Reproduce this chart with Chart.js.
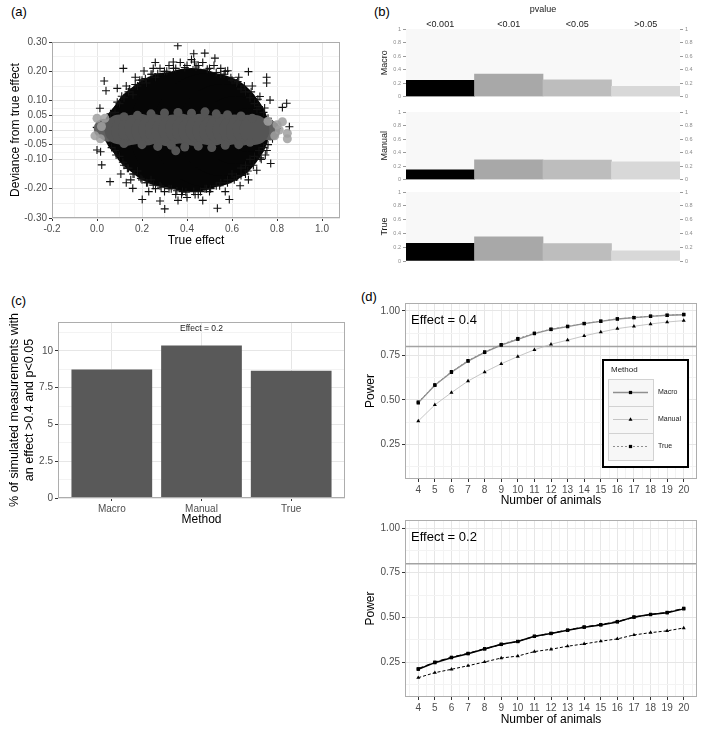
<!DOCTYPE html>
<html>
<head>
<meta charset="utf-8">
<script src="https://cdn.jsdelivr.net/npm/chart.js@4.4.0/dist/chart.umd.min.js"></script>
<style>
  body { margin: 0; background: #fff; width: 704px; height: 729px; position: relative; overflow: hidden;
         font-family: 'Liberation Sans', Arial, sans-serif; }
  canvas { position: absolute; }
  .tag { position: absolute; font-size: 13px; line-height: 15px; color: #000; }
</style>
</head>
<body>
<div class="tag" style="left:11px;top:4px">(a)</div>
<div class="tag" style="left:374px;top:4px">(b)</div>
<div class="tag" style="left:11px;top:293px">(c)</div>
<div class="tag" style="left:361px;top:289px">(d)</div>

<canvas id="chartA" width="350" height="255" style="left:0;top:0"></canvas>
<canvas id="facetMacro" width="364" height="102" style="left:340px;top:0"></canvas>
<canvas id="facetManual" width="364" height="85" style="left:340px;top:100px"></canvas>
<canvas id="facetTrue" width="364" height="85" style="left:340px;top:185px"></canvas>
<canvas id="chartC" width="350" height="250" style="left:0;top:280px"></canvas>
<canvas id="power04" width="344" height="232" style="left:360px;top:280px"></canvas>
<canvas id="power02" width="344" height="229" style="left:360px;top:500px"></canvas>

<script>
// ---- (a) deviance scatter ----
// dense black cloud of Manual crosses (centre line of the blob)
const denseX = [0.118, 0.162, 0.22, 0.273, 0.331, 0.42, 0.50, 0.56, 0.615, 0.67, 0.715];
const denseY = [0, 0, 0, 0, 0, 0, 0, 0, 0, 0, 0];
// single Manual crosses at the edge of the cloud and outliers
const crossX = [0.359, 0.479, 0.524, 0.259, 0.339, 0.433, 0.117, 0.209, 0.581, 0.673, 0.032, 0.754, 0.754, 0.040,
  0.090, 0.724, 0.769, 0.843, 0.824, 0.013, 0.711, 0.855, -0.001, 0.80, 0.754, 0.0, 0.016, 0.021, 0.772, 0.748,
  0.710, 0.058, 0.159, 0.201, 0.280, 0.301, 0.376, 0.436, 0.487, 0.535, 0.588, 0.636, 0.673, 0.106, 0.13,
  0.08, 0.10, 0.12, 0.14, 0.16, 0.18, 0.20, 0.22, 0.24, 0.26, 0.28, 0.30, 0.32, 0.34, 0.37, 0.40, 0.42, 0.45,
  0.47, 0.50, 0.52, 0.55, 0.57, 0.60, 0.62, 0.64, 0.66, 0.68, 0.70, 0.72, 0.74, 0.76,
  0.08, 0.10, 0.12, 0.14, 0.16, 0.18, 0.20, 0.22, 0.24, 0.26, 0.28, 0.30, 0.33, 0.35, 0.38, 0.40, 0.43, 0.45,
  0.48, 0.50, 0.53, 0.55, 0.58, 0.60, 0.62, 0.64, 0.66, 0.68, 0.70, 0.72, 0.74, 0.76,
  0.05, 0.06, 0.78, 0.78, 0.06, 0.13, 0.17, 0.25, 0.43, 0.55, 0.63, 0.69, 0.15, 0.23, 0.36, 0.47, 0.57, 0.66, 0.73,
  0.06, 0.09, 0.11, 0.145, 0.17, 0.19, 0.215, 0.245, 0.27, 0.31, 0.35, 0.39, 0.44, 0.49, 0.53, 0.565, 0.595, 0.625, 0.655, 0.685, 0.715, 0.745,
  0.065, 0.085, 0.115, 0.135, 0.165, 0.195, 0.225, 0.25, 0.285, 0.32, 0.355, 0.395, 0.46, 0.505, 0.545, 0.58, 0.61, 0.64, 0.67, 0.695, 0.725, 0.755];
const crossY = [0.287, 0.262, 0.245, 0.230, 0.232, 0.232, 0.210, 0.201, 0.202, 0.199, 0.167, 0.180, 0.160, 0.134,
  0.142, 0.114, 0.102, 0.091, 0.077, 0.074, 0.070, 0.011, 0.009, 0.005, -0.016, -0.068, -0.074, -0.119, -0.114, -0.085,
  -0.137, -0.176, -0.199, -0.237, -0.242, -0.269, -0.220, -0.220, -0.200, -0.267, -0.237, -0.190, -0.170, -0.150, -0.180,
  0.06, 0.09, 0.11, 0.13, 0.12, 0.15, 0.17, 0.16, 0.19, 0.18, 0.21, 0.20, 0.22, 0.21, 0.23, 0.22, 0.24, 0.22,
  0.23, 0.21, 0.22, 0.19, 0.20, 0.17, 0.16, 0.14, 0.13, 0.11, 0.09, 0.08, 0.06, 0.04,
  -0.07, -0.09, -0.12, -0.13, -0.15, -0.14, -0.17, -0.18, -0.17, -0.20, -0.19, -0.21, -0.20, -0.22, -0.21, -0.23, -0.21, -0.22,
  -0.20, -0.21, -0.19, -0.18, -0.17, -0.15, -0.16, -0.13, -0.12, -0.10, -0.09, -0.07, -0.06, -0.05,
  0.03, -0.03, 0.02, -0.03, 0.0, 0.15, 0.18, 0.21, 0.26, 0.21, 0.18, 0.15, -0.17, -0.21, -0.24, -0.24, -0.21, -0.15, -0.10,
  0.055, 0.095, 0.115, 0.14, 0.155, 0.17, 0.175, 0.19, 0.192, 0.2, 0.21, 0.213, 0.215, 0.207, 0.196, 0.19, 0.178, 0.165, 0.15, 0.13, 0.105, 0.075,
  -0.06, -0.085, -0.11, -0.13, -0.15, -0.165, -0.18, -0.188, -0.195, -0.2, -0.207, -0.212, -0.21, -0.2, -0.19, -0.18, -0.17, -0.155, -0.14, -0.12, -0.095, -0.07];
// grey Macro band around zero
const bandX = [0.10, 0.13, 0.16, 0.19, 0.22, 0.25, 0.28, 0.31, 0.34, 0.37, 0.40, 0.43, 0.46, 0.49, 0.52, 0.55, 0.58, 0.61, 0.64, 0.67, 0.70];
const bandY = [0.002, -0.003, 0.001, 0.004, -0.002, 0.003, 0.0, -0.004, 0.002, 0.005, 0.001, -0.003, 0.004, 0.0, -0.002, 0.003, -0.001, 0.002, -0.003, 0.001, 0.0];
const bandEndX = [0.03, 0.05, 0.07, 0.73, 0.75, 0.77];
const bandEndY = [0.004, -0.006, 0.008, -0.004, 0.006, -0.002];
const speckX = [0.12, 0.18, 0.24, 0.30, 0.36, 0.42, 0.48, 0.53, 0.58, 0.64, 0.69, 0.12, 0.20, 0.27, 0.33, 0.39, 0.45, 0.51, 0.57, 0.63, 0.68, 0.35];
const speckY = [0.045, 0.050, 0.055, 0.058, 0.060, 0.057, 0.062, 0.055, 0.052, 0.048, 0.040, -0.046, -0.050, -0.056, -0.052, -0.058, -0.055, -0.060, -0.052, -0.050, -0.042, -0.071];
const lightX = [0.0, -0.009, 0.02, 0.015, 0.035, 0.80, 0.824, 0.846, 0.846, 0.79, 0.76, 0.81];
const lightY = [0.040, -0.020, 0.012, -0.030, 0.040, 0.018, 0.028, -0.011, -0.030, -0.020, 0.030, 0.0];

// ---- (b) share of significant results per p-value bin ----
const pvalueBins = ['<0.001', '<0.01', '<0.05', '>0.05'];
const shareMacro = [0.243, 0.333, 0.248, 0.152];
const shareManual = [0.146, 0.293, 0.288, 0.263];
const shareTrue = [0.257, 0.350, 0.252, 0.146];

// ---- (c) % with effect > 0.4 and p < 0.05 ----
const methods = ['Macro', 'Manual', 'True'];
const pctLargeSig = [8.74, 10.37, 8.65];
const effectC = 0.2;

// ---- (d) power curves ----
const animals = [4, 5, 6, 7, 8, 9, 10, 11, 12, 13, 14, 15, 16, 17, 18, 19, 20];
const power04Macro = [0.483, 0.582, 0.655, 0.718, 0.767, 0.808, 0.841, 0.873, 0.896, 0.912, 0.929, 0.942, 0.955, 0.963, 0.970, 0.976, 0.979];
const power04Manual = [0.381, 0.472, 0.541, 0.606, 0.657, 0.703, 0.744, 0.782, 0.813, 0.836, 0.860, 0.881, 0.901, 0.914, 0.927, 0.938, 0.946];
const power04True = [0.488, 0.585, 0.659, 0.721, 0.770, 0.811, 0.845, 0.875, 0.898, 0.914, 0.930, 0.943, 0.956, 0.963, 0.971, 0.976, 0.981];
const power02Macro = [0.210, 0.247, 0.275, 0.297, 0.324, 0.350, 0.365, 0.395, 0.410, 0.428, 0.445, 0.458, 0.475, 0.503, 0.516, 0.526, 0.548];
const power02Manual = [0.163, 0.191, 0.210, 0.230, 0.251, 0.273, 0.284, 0.309, 0.322, 0.339, 0.352, 0.367, 0.380, 0.402, 0.415, 0.425, 0.441];
const power02True = [0.213, 0.250, 0.277, 0.299, 0.325, 0.349, 0.366, 0.394, 0.411, 0.429, 0.447, 0.460, 0.477, 0.501, 0.517, 0.528, 0.551];
const powerTarget = 0.8;

// tick positions (majors labelled, minors only as faint grid)
const devTicks = [-0.3, -0.2, -0.1, -0.05, 0, 0.05, 0.1, 0.2, 0.3];
const devMinor = [-0.25, -0.15, -0.075, -0.025, 0.025, 0.075, 0.15, 0.25];
const effTicks = [-0.2, 0, 0.2, 0.4, 0.6, 0.8, 1.0];
const effMinor = [-0.1, 0.1, 0.3, 0.5, 0.7, 0.9];
const pctTicks = [0, 2.5, 5, 7.5, 10];
const pctMinor = [1.25, 3.75, 6.25, 8.75, 11.25];
const powerTicks = [0.25, 0.5, 0.75, 1.0];
const powerMinor = [0.125, 0.375, 0.625, 0.875];
const animalMinor = [3.5, 4.5, 5.5, 6.5, 7.5, 8.5, 9.5, 10.5, 11.5, 12.5, 13.5, 14.5, 15.5, 16.5, 17.5, 18.5, 19.5, 20.5];

const FONT = "'Liberation Sans', Arial, sans-serif";
Chart.defaults.font.family = FONT;
Chart.defaults.color = '#4d4d4d';
Chart.defaults.animation = false;
Chart.defaults.responsive = false;
Chart.defaults.devicePixelRatio = 1;
Chart.defaults.layout.autoPadding = false;
Chart.defaults.plugins.legend.display = false;
Chart.defaults.plugins.tooltip.enabled = false;

const GRID_MAJOR = '#e6e6e6', GRID_MINOR = '#f3f3f3', TICK = '#333333', FRAME = '#adadad';

const xy = (xs, ys) => xs.map((x, i) => ({ x: x, y: ys[i] }));
const isIn = (list, v) => list.some(m => Math.abs(m - v) < 1e-9);

// ggplot-like axis: major ticks with labels, minor ones only as light grid
function ggAxis(majors, minors, fmt, fit) {
  const all = majors.concat(minors).sort((a, b) => a - b);
  return {
    afterBuildTicks: s => { s.ticks = all.map(v => ({ value: v })); },
    afterFit: fit,
    border: { display: false },
    grid: {
      color: c => (c.tick && isIn(majors, c.tick.value)) ? GRID_MAJOR : GRID_MINOR,
      tickColor: c => (c.tick && isIn(majors, c.tick.value)) ? TICK : 'rgba(0,0,0,0)',
      tickLength: 3
    },
    ticks: {
      autoSkip: false, maxRotation: 0, padding: 2, color: '#4d4d4d', font: { size: 10 },
      callback: v => isIn(majors, v) ? fmt(v) : ''
    }
  };
}

const frame = {
  id: 'frame',
  beforeDraw(chart, args, o) {
    if (!o.bg) return;
    const a = chart.chartArea, ctx = chart.ctx;
    ctx.save();
    ctx.fillStyle = o.bg;
    ctx.fillRect(a.left, a.top, a.right - a.left, a.bottom - a.top);
    ctx.restore();
  },
  afterDraw(chart, args, o) {
    if (!o.color) return;
    const a = chart.chartArea, ctx = chart.ctx;
    ctx.save();
    ctx.strokeStyle = o.color;
    ctx.lineWidth = 1;
    ctx.strokeRect(Math.round(a.left) + 0.5, Math.round(a.top) + 0.5,
      Math.round(a.right - a.left) - 1, Math.round(a.bottom - a.top) - 1);
    ctx.restore();
  }
};

// strip labels on top of the (b) facets
const binLabels = {
  id: 'binLabels',
  afterDraw(chart, args, o) {
    if (!o.title) return;
    const a = chart.chartArea, ctx = chart.ctx, x = chart.scales.x;
    ctx.save();
    ctx.font = '9px ' + FONT;
    ctx.fillStyle = '#1a1a1a';
    ctx.textAlign = 'center';
    ctx.textBaseline = 'middle';
    chart.data.labels.forEach((lab, i) => ctx.fillText(lab, x.getPixelForValue(i), a.top - 4.5));
    ctx.fillText(o.title, (a.left + a.right) / 2, a.top - 19);
    ctx.restore();
  }
};

const effectTag = {
  id: 'effectTag',
  afterDatasetsDraw(chart, args, o) {
    if (!o.text) return;
    const a = chart.chartArea, ctx = chart.ctx;
    ctx.save();
    ctx.font = o.size + 'px ' + FONT;
    ctx.fillStyle = o.color || '#000';
    ctx.textBaseline = 'middle';
    ctx.textAlign = o.align || 'left';
    const x = o.align === 'center' ? (a.left + a.right) / 2 : a.left + o.dx;
    ctx.fillText(o.text, x, a.top + o.dy);
    ctx.restore();
  }
};

const refLine = {
  id: 'refLine',
  beforeDatasetsDraw(chart, args, o) {
    if (o.value == null) return;
    const a = chart.chartArea, ctx = chart.ctx;
    const y = chart.scales.y.getPixelForValue(o.value);
    ctx.save();
    ctx.strokeStyle = '#a3a3a3';
    ctx.lineWidth = 1.5;
    ctx.beginPath();
    ctx.moveTo(a.left, y);
    ctx.lineTo(a.right, y);
    ctx.stroke();
    ctx.restore();
  }
};

const boxLegend = {
  id: 'boxLegend',
  afterDraw(chart, args, o) {
    if (!o.title) return;
    const a = chart.chartArea, ctx = chart.ctx;
    const L = Math.round(a.right - 94), T = Math.round(a.top + 57), W = 85, H = 107;
    ctx.save();
    ctx.fillStyle = '#fff';
    ctx.fillRect(L, T, W, H);
    ctx.lineWidth = 2;
    ctx.strokeStyle = '#000';
    ctx.strokeRect(L, T, W, H);
    ctx.fillStyle = '#1a1a1a';
    ctx.font = '8px ' + FONT;
    ctx.textBaseline = 'middle';
    ctx.fillText(o.title, L + 8, T + 10);
    chart.data.datasets.forEach((ds, i) => {
      const kx = L + 5, ky = T + 19 + i * 27, cy = ky + 13.5;
      ctx.fillStyle = '#f7f7f7';
      ctx.fillRect(kx, ky, 45, 27);
      ctx.strokeStyle = '#d2d2d2';
      ctx.lineWidth = 1;
      ctx.setLineDash([]);
      ctx.strokeRect(kx + 0.5, ky + 0.5, 45, 27);
      ctx.strokeStyle = ds.borderColor;
      ctx.lineWidth = ds.borderWidth;
      ctx.setLineDash(ds.borderDash || []);
      ctx.beginPath();
      ctx.moveTo(kx + 5, cy);
      ctx.lineTo(kx + 40, cy);
      ctx.stroke();
      ctx.setLineDash([]);
      ctx.fillStyle = '#000';
      Chart.helpers.drawPoint(ctx, { pointStyle: ds.pointStyle, radius: ds.pointRadius, borderWidth: 0, rotation: 0 }, kx + 22.5, cy);
      ctx.fillStyle = '#1a1a1a';
      ctx.font = '7px ' + FONT;
      ctx.fillText(ds.label, kx + 50, cy);
    });
    ctx.restore();
  }
};

// (a)
const dot = (c, r) => ({ pointRadius: r, pointBackgroundColor: c, pointBorderWidth: 0, pointBorderColor: c });
new Chart(document.getElementById('chartA'), {
  type: 'scatter',
  data: {
    datasets: [
      Object.assign({ label: 'Macro', data: xy(lightX, lightY) }, dot('rgba(160,160,160,0.85)', 4.5)),
      Object.assign({ label: 'Macro', data: xy(speckX, speckY) }, dot('#555555', 4.5)),
      Object.assign({ label: 'Macro', data: xy(bandX, bandY) }, dot('#555555', 15)),
      Object.assign({ label: 'Macro', data: xy(bandEndX, bandEndY) }, dot('#606060', 10)),
      { label: 'Manual', data: xy(crossX, crossY), pointStyle: 'cross', pointRadius: 4, pointBorderColor: '#111', pointBorderWidth: 1.1 },
      Object.assign({ label: 'Manual', data: xy(denseX, denseY) }, dot('#060606', 10),
        { pointRadius: [18, 30, 40, 50, 58, 62, 57, 46, 34, 22, 12] })
    ]
  },
  options: {
    layout: { padding: { top: 42, right: 10, left: 0, bottom: 0 } },
    scales: {
      x: Object.assign({ type: 'linear', min: -0.2, max: 1.08,
        title: { display: true, text: 'True effect', color: '#000', font: { size: 12 }, padding: { top: 0, bottom: 7 } } },
        ggAxis(effTicks, effMinor, v => v.toFixed(1), s => { s.height = 37; })),
      y: Object.assign({ type: 'linear', min: -0.3, max: 0.3,
        title: { display: true, text: 'Deviance from true effect', color: '#000', font: { size: 12 }, padding: { top: 8, bottom: 0 } } },
        ggAxis(devTicks, devMinor, v => v.toFixed(2), s => { s.width = 52; }))
    },
    plugins: { frame: { color: FRAME } }
  },
  plugins: [frame]
});

// (b) facets
const binColors = ['#000000', '#a8a8a8', '#bdbdbd', '#d8d8d8'];
function facet(id, method, values, first, pad) {
  const sideTicks = { stepSize: 0.2, autoSkip: false, color: '#8c8c8c', font: { size: 5.5 }, padding: 2,
    callback: v => String(+v.toFixed(1)) };
  new Chart(document.getElementById(id), {
    type: 'bar',
    data: { labels: pvalueBins, datasets: [{ label: method, data: values, backgroundColor: binColors,
      barPercentage: 1, categoryPercentage: 1, borderWidth: 0 }] },
    options: {
      layout: { padding: pad },
      scales: {
        x: { display: false },
        y: { min: 0, max: 1, afterFit: s => { s.width = 66; }, ticks: sideTicks,
          grid: { drawOnChartArea: false, tickLength: 3, tickColor: '#9a9a9a' }, border: { display: false },
          title: { display: true, text: method, color: '#1a1a1a', font: { size: 9 }, padding: { top: 39.6, bottom: 0 } } },
        y2: { position: 'right', min: 0, max: 1, afterFit: s => { s.width = 24; }, ticks: sideTicks,
          grid: { drawOnChartArea: false, tickLength: 3, tickColor: '#9a9a9a' }, border: { display: false } }
      },
      plugins: { frame: { bg: '#f8f8f8' }, binLabels: first ? { title: 'pvalue' } : {} }
    },
    plugins: [frame, binLabels]
  });
}
facet('facetMacro', 'Macro', shareMacro, true, { top: 29, bottom: 3, left: 0, right: 0 });
facet('facetManual', 'Manual', shareManual, false, { top: 12, bottom: 5, left: 0, right: 0 });
facet('facetTrue', 'True', shareTrue, false, { top: 7, bottom: 9, left: 0, right: 0 });

// (c)
new Chart(document.getElementById('chartC'), {
  type: 'bar',
  data: { datasets: [{ label: 'Effect = ' + effectC, data: methods.map((m, i) => ({ x: i + 1, y: pctLargeSig[i] })),
    backgroundColor: '#595959', barPercentage: 0.9, categoryPercentage: 1, borderWidth: 0 }] },
  options: {
    layout: { padding: { top: 42, right: 5, left: 0, bottom: 0 } },
    scales: {
      x: (() => {
        const ax = ggAxis([1, 2, 3], [], v => methods[v - 1], s => { s.height = 32; });
        ax.grid.offset = false;
        return Object.assign({ type: 'linear', min: 0.4, max: 3.6, offset: false,
          title: { display: true, text: 'Method', color: '#000', font: { size: 12 }, padding: { top: 0, bottom: 3 } } }, ax);
      })(),
      y: Object.assign({ type: 'linear', min: 0, max: 11.96,
        title: { display: true, text: ['% of simulated measurements with', 'an effect >0.4 and p<0.05'], color: '#000',
          font: { size: 12.5 }, padding: { top: 7.5, bottom: 0 } } },
        ggAxis(pctTicks, pctMinor, v => String(v), s => { s.width = 58; }))
    },
    plugins: {
      frame: { color: FRAME },
      effectTag: { text: 'Effect = ' + effectC, size: 8.5, color: '#1a1a1a', align: 'center', dy: 7 }
    }
  },
  plugins: [frame, effectTag]
});

// (d)
function powerChart(id, effect, series, styles, pad, xHeight, titlePad, withLegend) {
  new Chart(document.getElementById(id), {
    type: 'line',
    data: {
      datasets: methods.map((m, i) => Object.assign({
        label: m, data: xy(animals, series[i]),
        pointBackgroundColor: '#000', pointBorderWidth: 0, pointRadius: 2.3, fill: false, tension: 0
      }, styles[i]))
    },
    options: {
      layout: { padding: pad },
      scales: {
        x: Object.assign({ type: 'linear', min: 3.2, max: 20.8,
          title: { display: true, text: 'Number of animals', color: '#000', font: { size: 12 }, padding: { top: 0, bottom: titlePad } } },
          ggAxis(animals, animalMinor, v => String(v), s => { s.height = xHeight; })),
        y: Object.assign({ type: 'linear', min: 0.055, max: 1.045,
          title: { display: true, text: 'Power', color: '#000', font: { size: 12 }, padding: { top: 3, bottom: 0 } } },
          ggAxis(powerTicks, powerMinor, v => v.toFixed(2), s => { s.width = 45; }))
      },
      plugins: {
        frame: { color: FRAME },
        refLine: { value: powerTarget },
        effectTag: { text: 'Effect = ' + effect, size: 13, color: '#000', dx: 6, dy: 17.5 },
        boxLegend: withLegend ? { title: 'Method' } : {}
      }
    },
    plugins: [frame, refLine, effectTag, boxLegend]
  });
}

powerChart('power04', 0.4, [power04Macro, power04Manual, power04True], [
  { borderColor: '#8f8f8f', borderWidth: 1.3, pointStyle: 'rect' },
  { borderColor: '#b8b8b8', borderWidth: 0.8, pointStyle: 'triangle' },
  { borderColor: '#8f8f8f', borderWidth: 1, borderDash: [2, 2], pointStyle: 'rect' }
], { top: 23, right: 7, left: 0, bottom: 0 }, 33, 4, true);

powerChart('power02', 0.2, [power02Macro, power02Manual, power02True], [
  { borderColor: '#000', borderWidth: 1.5, pointStyle: 'rect' },
  { borderColor: '#000', borderWidth: 1, borderDash: [3, 2], pointStyle: 'triangle' },
  { borderColor: '#000', borderWidth: 1.2, borderDash: [5, 3], pointStyle: 'rect' }
], { top: 20, right: 7, left: 0, bottom: 0 }, 32, 2, false);
</script>
</body>
</html>
